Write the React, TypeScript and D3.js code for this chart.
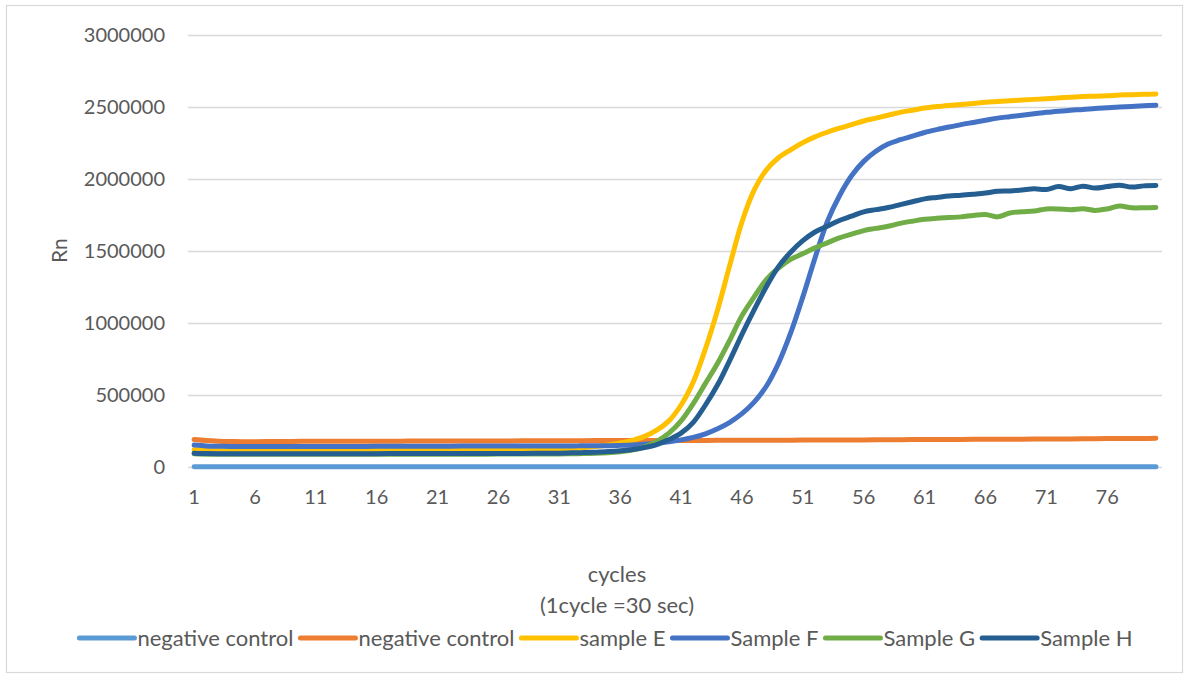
import React, { useEffect, useRef } from 'react';
import * as d3 from 'd3';

// cycles 1..80
const cycles: number[] = Array.from({ length: 80 }, (_, i) => i + 1);
const xTickLabels = [1, 6, 11, 16, 21, 26, 31, 36, 41, 46, 51, 56, 61, 66, 71, 76];
const yTicks = [0, 500000, 1000000, 1500000, 2000000, 2500000, 3000000];

const negControlA = [
  2000, 1500, 1500, 1500, 1500, 1500, 1500, 1500, 1500, 1500,
  1500, 1500, 1500, 1500, 1500, 1500, 1500, 1500, 1500, 1500,
  1500, 1500, 1500, 1500, 1500, 1500, 1500, 1500, 1500, 1500,
  1500, 1500, 1500, 1500, 1500, 1500, 1500, 1500, 1500, 1500,
  1500, 1500, 1500, 1500, 1500, 1500, 1500, 1500, 1500, 1500,
  1500, 1500, 1500, 1500, 1500, 1500, 1500, 1500, 1500, 1500,
  1500, 1500, 1500, 1500, 1500, 1500, 1500, 1500, 1500, 1500,
  1500, 1500, 1500, 1500, 1500, 1500, 1500, 1500, 1500, 1500,
];

const negControlB = [
  190000, 183000, 179000, 177000, 176000, 176000, 177000, 177000, 177000, 178000,
  178000, 178000, 178000, 179000, 179000, 179000, 179000, 179000, 180000, 180000,
  180000, 180000, 180000, 181000, 181000, 181000, 181000, 182000, 182000, 182000,
  182000, 182000, 182000, 183000, 183000, 183000, 183000, 183000, 183000, 184000,
  184000, 184000, 184000, 185000, 185000, 185000, 185000, 186000, 186000, 186000,
  187000, 187000, 187000, 188000, 188000, 188000, 189000, 189000, 189000, 190000,
  190000, 190000, 191000, 191000, 192000, 192000, 192000, 193000, 193000, 194000,
  194000, 195000, 195000, 196000, 196000, 197000, 197000, 198000, 198000, 199000,
];

const sampleE = [
  120000, 115000, 113000, 112000, 112000, 112000, 112000, 112000, 113000, 113000,
  113000, 113000, 114000, 114000, 114000, 114000, 115000, 115000, 115000, 115000,
  116000, 116000, 116000, 117000, 117000, 118000, 118000, 119000, 120000, 121000,
  124000, 128000, 134000, 142000, 152000, 166000, 185000, 212000, 255000, 320000,
  430000, 590000, 820000, 1090000, 1400000, 1700000, 1920000, 2060000, 2145000, 2200000,
  2250000, 2290000, 2322000, 2350000, 2375000, 2400000, 2420000, 2440000, 2460000, 2475000,
  2490000, 2500000, 2508000, 2515000, 2522000, 2530000, 2535000, 2540000, 2545000, 2550000,
  2555000, 2560000, 2565000, 2570000, 2572000, 2575000, 2580000, 2582000, 2585000, 2588000,
];

const sampleF = [
  152000, 146000, 144000, 143000, 143000, 143000, 143000, 143000, 143000, 143000,
  143000, 143000, 143000, 143000, 143000, 144000, 144000, 144000, 144000, 144000,
  144000, 144000, 145000, 145000, 145000, 145000, 145000, 145000, 146000, 146000,
  146000, 146000, 147000, 147000, 148000, 150000, 153000, 158000, 165000, 175000,
  188000, 205000, 230000, 265000, 310000, 370000, 450000, 560000, 720000, 930000,
  1180000, 1450000, 1700000, 1880000, 2020000, 2120000, 2190000, 2240000, 2270000, 2295000,
  2320000, 2340000, 2358000, 2375000, 2390000, 2405000, 2420000, 2430000, 2440000, 2450000,
  2460000, 2468000, 2475000, 2480000, 2487000, 2492000, 2497000, 2500000, 2505000, 2510000,
];

const sampleG = [
  92000, 89000, 88000, 88000, 88000, 88000, 88000, 88000, 88000, 88000,
  88000, 88000, 88000, 88000, 88000, 88000, 88000, 89000, 89000, 89000,
  89000, 89000, 89000, 89000, 89000, 90000, 90000, 90000, 90000, 91000,
  91000, 92000, 93000, 95000, 99000, 106000, 118000, 140000, 178000, 235000,
  320000, 440000, 580000, 720000, 880000, 1050000, 1180000, 1300000, 1380000, 1440000,
  1480000, 1520000, 1555000, 1590000, 1615000, 1640000, 1655000, 1670000, 1690000, 1705000,
  1718000, 1725000, 1730000, 1735000, 1745000, 1752000, 1735000, 1762000, 1770000, 1775000,
  1790000, 1790000, 1785000, 1792000, 1780000, 1790000, 1810000, 1798000, 1798000, 1800000,
];

const sampleH = [
  96000, 93000, 92000, 92000, 92000, 92000, 92000, 92000, 92000, 92000,
  92000, 92000, 92000, 92000, 92000, 92000, 93000, 93000, 93000, 93000,
  93000, 93000, 93000, 93000, 94000, 94000, 94000, 94000, 95000, 95000,
  96000, 98000, 100000, 103000, 107000, 113000, 122000, 135000, 155000, 190000,
  235000, 310000, 430000, 570000, 740000, 920000, 1090000, 1250000, 1390000, 1490000,
  1570000, 1630000, 1670000, 1710000, 1740000, 1770000, 1785000, 1800000, 1820000, 1840000,
  1860000, 1870000, 1880000, 1885000, 1892000, 1900000, 1912000, 1915000, 1922000, 1930000,
  1925000, 1945000, 1930000, 1948000, 1935000, 1945000, 1955000, 1942000, 1950000, 1952000,
];

const seriesNames = ['negative control', 'negative control', 'sample E', 'Sample F', 'Sample G', 'Sample H'];
const seriesValues = [negControlA, negControlB, sampleE, sampleF, sampleG, sampleH];
const seriesColors = ['#5B9BD5', '#ED7D31', '#FFC000', '#4472C4', '#70AD47', '#255E91'];

const W = 1189;
const H = 676;
const FONT = 'Lato, "Open Sans", sans-serif';
const TEXT = '#595959';

const App: React.FC = () => {
  const svgRef = useRef<SVGSVGElement>(null);

  useEffect(() => {
    document.body.style.margin = '0';
    if (!svgRef.current) return;
    const svg = d3.select(svgRef.current);
    svg.selectAll('*').remove();

    const plot = { left: 188, right: 1162, top: 34.5, bottom: 467 };

    svg.append('rect').attr('width', W).attr('height', H).attr('fill', '#fff');
    svg.append('rect')
      .attr('x', 6.5).attr('y', 5.5).attr('width', 1176).attr('height', 667)
      .attr('fill', 'none').attr('stroke', '#D9D9D9').attr('stroke-width', 1.2);

    const x = d3.scaleBand<number>().domain(cycles).range([plot.left, plot.right]);
    const xc = (c: number) => (x(c) as number) + x.bandwidth() / 2;
    const y = d3.scaleLinear().domain([0, 3000000]).range([plot.bottom, plot.top]);

    // gridlines
    svg.append('g').selectAll('line').data(yTicks).enter().append('line')
      .attr('x1', plot.left).attr('x2', plot.right)
      .attr('y1', d => Math.round(y(d)) + 0.5).attr('y2', d => Math.round(y(d)) + 0.5)
      .attr('stroke', '#D9D9D9').attr('stroke-width', 1.3);

    // y tick labels
    svg.append('g').selectAll('text').data(yTicks).enter().append('text')
      .attr('x', 165).attr('y', d => y(d)).attr('dy', '0.35em')
      .attr('text-anchor', 'end')
      .style('font-family', FONT).style('font-size', '20px').style('fill', TEXT)
      .text(d => String(d));

    // x tick labels
    svg.append('g').selectAll('text').data(xTickLabels).enter().append('text')
      .attr('x', d => xc(d)).attr('y', 497).attr('dy', '0.35em')
      .attr('text-anchor', 'middle')
      .style('font-family', FONT).style('font-size', '20px').style('fill', TEXT)
      .text(d => String(d));

    // axis titles
    svg.append('text')
      .attr('transform', `translate(60,${(plot.top + plot.bottom) / 2}) rotate(-90)`)
      .attr('text-anchor', 'middle').attr('dy', '0.35em')
      .style('font-family', FONT).style('font-size', '21px').style('fill', TEXT)
      .text('Rn');
    svg.append('text')
      .attr('x', 617).attr('y', 574).attr('dy', '0.35em').attr('text-anchor', 'middle')
      .style('font-family', FONT).style('font-size', '22px').style('fill', TEXT)
      .text('cycles');
    svg.append('text')
      .attr('x', 617).attr('y', 605).attr('dy', '0.35em').attr('text-anchor', 'middle')
      .style('font-family', FONT).style('font-size', '22px').style('fill', TEXT)
      .text('(1cycle =30 sec)');

    // lines
    const line = d3.line<number>()
      .x((_, i) => xc(cycles[i]))
      .y(d => y(d))
      .curve(d3.curveCatmullRom.alpha(0.5));

    svg.append('g').selectAll('path').data(seriesValues).enter().append('path')
      .attr('d', d => line(d) as string)
      .attr('fill', 'none')
      .attr('stroke', (_, i) => seriesColors[i])
      .attr('stroke-width', 5)
      .attr('stroke-linecap', 'round')
      .attr('stroke-linejoin', 'round');

    // legend
    const legend = svg.append('g');
    const swatch = 55;
    const gapAfterSwatch = 3;
    const gapItems = 7;
    const items = seriesNames.map((name, i) => {
      const g = legend.append('g');
      g.append('line')
        .attr('x1', 0).attr('x2', swatch).attr('y1', 0).attr('y2', 0)
        .attr('stroke', seriesColors[i]).attr('stroke-width', 5).attr('stroke-linecap', 'round');
      const t = g.append('text')
        .attr('x', swatch + gapAfterSwatch).attr('dy', '0.35em')
        .style('font-family', FONT).style('font-size', '22px').style('fill', TEXT)
        .text(name);
      const w = (t.node() as SVGTextElement).getComputedTextLength();
      return { g, width: swatch + gapAfterSwatch + w };
    });
    const total = items.reduce((a, b) => a + b.width, 0) + gapItems * (items.length - 1);
    let cx = 606 - total / 2;
    items.forEach(it => {
      it.g.attr('transform', `translate(${cx},638)`);
      cx += it.width + gapItems;
    });
  }, []);

  return <svg ref={svgRef} width={W} height={H} style={{ display: 'block' }} />;
};

export default App;
